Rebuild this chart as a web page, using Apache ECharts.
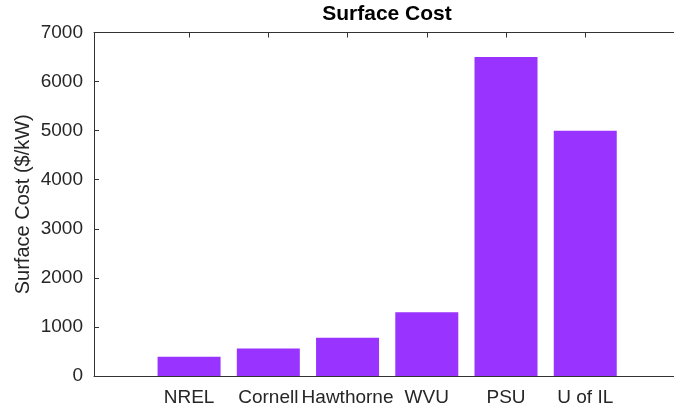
<!DOCTYPE html>
<html>
<head>
<meta charset="utf-8">
<script src="https://cdn.jsdelivr.net/npm/echarts@6/dist/echarts.min.js"></script>
<style>html,body{margin:0;padding:0;background:#fff}#c{width:674px;height:410px}</style>
</head>
<body>
<div id="c"></div>
<script>
var categories = ['NREL', 'Cornell', 'Hawthorne', 'WVU', 'PSU', 'U of IL'];
var positions = [1, 2, 3, 4, 5, 6];
var surfaceCost = [390, 560, 780, 1300, 6500, 5000];
var yTicks = [0, 1000, 2000, 3000, 4000, 5000, 6000, 7000];

var FONT = '"Liberation Sans", Arial, Helvetica, sans-serif';
var AX = '#333333';
var TXT = '#262626';

var chart = echarts.init(document.getElementById('c'), null, {renderer: 'canvas'});
var barData = positions.map(function (p, i) { return [p, surfaceCost[i]]; });

chart.setOption({
  animation: false,
  title: {
    text: 'Surface Cost',
    left: 387, top: 4, textAlign: 'center', padding: 0,
    textStyle: {fontFamily: FONT, fontSize: 21, fontWeight: 'bold', color: '#000'}
  },
  grid: {left: 94, right: 0, top: 32.5, bottom: 34, containLabel: false},
  xAxis: [{
    type: 'value', position: 'bottom', min: -0.2, max: 7.12,
    splitLine: {show: false},
    axisLine: {show: true, onZero: false, lineStyle: {color: AX, width: 1}},
    axisTick: {show: true, inside: true, length: 5, customValues: positions, lineStyle: {color: AX}},
    axisLabel: {
      show: true, margin: 12, customValues: positions,
      fontFamily: FONT, fontSize: 19, color: TXT,
      formatter: function (v) { var i = positions.indexOf(Math.round(v)); return i >= 0 ? categories[i] : ''; }
    }
  }, {
    type: 'value', position: 'top', min: -0.2, max: 7.12,
    splitLine: {show: false},
    axisLine: {show: true, onZero: false, lineStyle: {color: AX, width: 1}},
    axisTick: {show: true, inside: true, length: 5, customValues: positions, lineStyle: {color: AX}},
    axisLabel: {show: false}
  }],
  yAxis: {
    type: 'value', min: 0, max: 7000, interval: 1000,
    name: 'Surface Cost ($/kW)', nameLocation: 'middle', nameGap: 61, nameRotate: 90,
    nameMoveOverlap: false,
    nameTextStyle: {fontFamily: FONT, fontSize: 20, color: TXT},
    splitLine: {show: false},
    axisLine: {show: true, onZero: false, lineStyle: {color: AX, width: 1}},
    axisTick: {show: true, inside: true, length: 5, lineStyle: {color: AX}},
    axisLabel: {margin: 11, fontFamily: FONT, fontSize: 19, color: TXT,
      formatter: function (v) { return yTicks.indexOf(v) >= 0 ? String(v) : ''; }}
  },
  series: [{
    type: 'bar', xAxisIndex: 0, yAxisIndex: 0,
    data: barData, barWidth: 63,
    itemStyle: {color: '#9933FF'}
  }]
});
</script>
</body>
</html>
